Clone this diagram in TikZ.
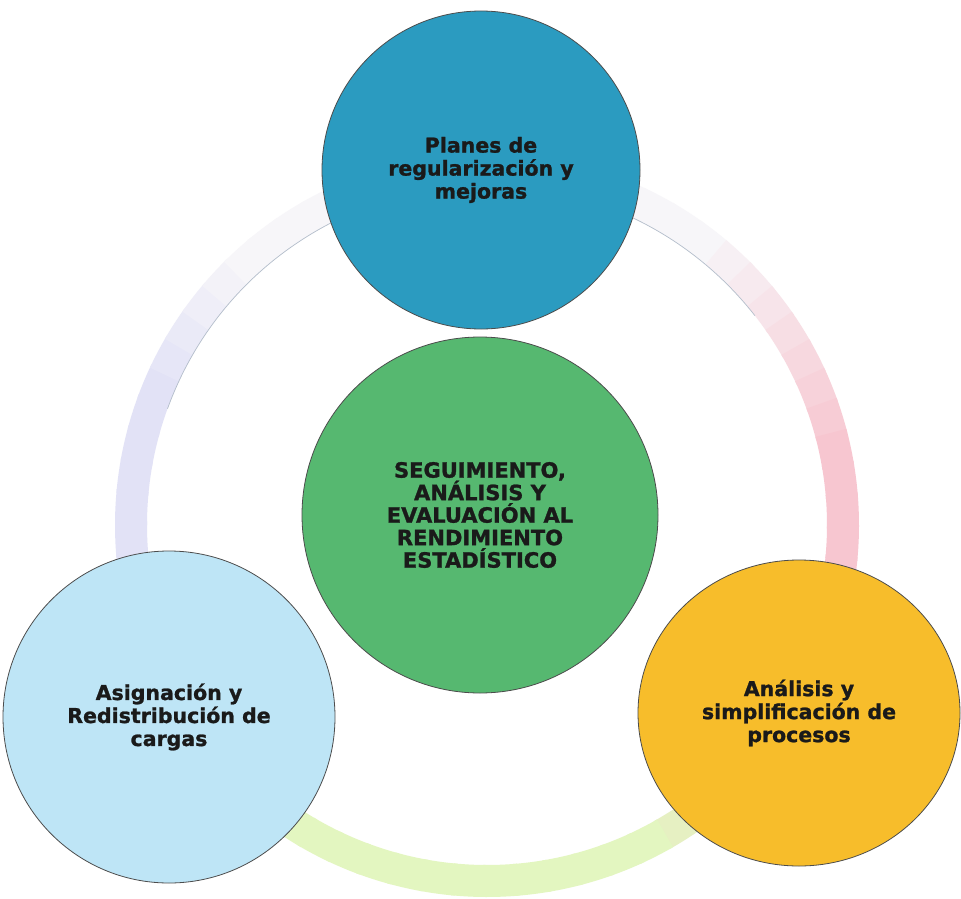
\documentclass[tikz,border=0pt]{standalone}
\usepackage{fontspec}
\setmainfont{DejaVu Sans}[BoldFeatures={FakeBold=1.2}]
\usetikzlibrary{shapes.geometric}
\definecolor{cBlue}{HTML}{2B9BC0}
\definecolor{cGreen}{HTML}{56B870}
\definecolor{cLight}{HTML}{BEE5F6}
\definecolor{cOrange}{HTML}{F7BD2B}
\definecolor{ringP}{HTML}{F7C6D0}
\definecolor{ringW}{HTML}{F7F6F9}
\definecolor{ringL}{HTML}{E2E2F6}
\definecolor{ringY}{HTML}{E3F6C0}
\definecolor{ringEdge}{HTML}{B4BECB}
\definecolor{txt}{HTML}{1A1A1A}
\begin{document}
\begin{tikzpicture}[x=1pt,y=-1pt,
  ringseg/.style={line width=32pt},
  bubble/.style={circle, draw=black!70, line width=0.8pt, inner sep=0pt,
    align=center, text=txt, font=\bfseries\fontsize{20.5}{23}\selectfont},
  hub/.style={bubble, font=\bfseries\fontsize{21}{22.5}\selectfont}]
\useasboundingbox (0,0) rectangle (961,899);
\fill[white] (0,0) rectangle (961,899);
\coordinate (rc) at (487,525);
% faint ring
\foreach \t in {305,310,...,340}{
  \pgfmathsetmacro\p{(\t-305)*100/40}
  \draw[ringseg, color=ringP!\p!ringW] (rc) ++(\t:356) arc[start angle=\t, delta angle=5.6, radius=356];}
\foreach \t in {345,350,...,375}{
  \draw[ringseg, color=ringP] (rc) ++(\t:356) arc[start angle=\t, delta angle=5.6, radius=356];}
\foreach \t in {20,25,...,55}{
  \pgfmathsetmacro\p{(60-\t)*2.5}
  \draw[ringseg, color=ringP!\p!ringY] (rc) ++(\t:356) arc[start angle=\t, delta angle=5.6, radius=356];}
\foreach \t in {60,65,...,120}{
  \draw[ringseg, color=ringY] (rc) ++(\t:356) arc[start angle=\t, delta angle=5.6, radius=356];}
\foreach \t in {125,130,...,145}{
  \pgfmathsetmacro\p{(150-\t)*4}
  \draw[ringseg, color=ringY!\p!ringL] (rc) ++(\t:356) arc[start angle=\t, delta angle=5.6, radius=356];}
\foreach \t in {150,155,...,195}{
  \draw[ringseg, color=ringL] (rc) ++(\t:356) arc[start angle=\t, delta angle=5.6, radius=356];}
\foreach \t in {200,205,...,220}{
  \pgfmathsetmacro\p{(225-\t)*4}
  \draw[ringseg, color=ringL!\p!ringW] (rc) ++(\t:356) arc[start angle=\t, delta angle=5.6, radius=356];}
\foreach \t in {225,230,...,300}{
  \draw[ringseg, color=ringW] (rc) ++(\t:356) arc[start angle=\t, delta angle=5.6, radius=356];}
\draw[ringEdge, line width=0.7pt] (rc) ++(200:340) arc[start angle=200, end angle=322, radius=340];
% circles
\node[bubble, fill=cBlue, minimum size=318pt] (plan) at (481,170)
  {Planes de\\regularización y\\mejoras};
\node[hub, fill=cGreen, minimum size=356pt] (seg) at (480,515)
  {SEGUIMIENTO,\\ANÁLISIS Y\\EVALUACIÓN AL\\RENDIMIENTO\\ESTADÍSTICO};
\node[bubble, fill=cLight, minimum size=332pt] (asig) at (169,717)
  {Asignación y\\Redistribución de\\cargas};
\node[bubble, ellipse, fill=cOrange, minimum width=322pt, minimum height=306pt] (anal) at (799,713)
  {Análisis y\\simplificación de\\procesos};
\end{tikzpicture}
\end{document}
